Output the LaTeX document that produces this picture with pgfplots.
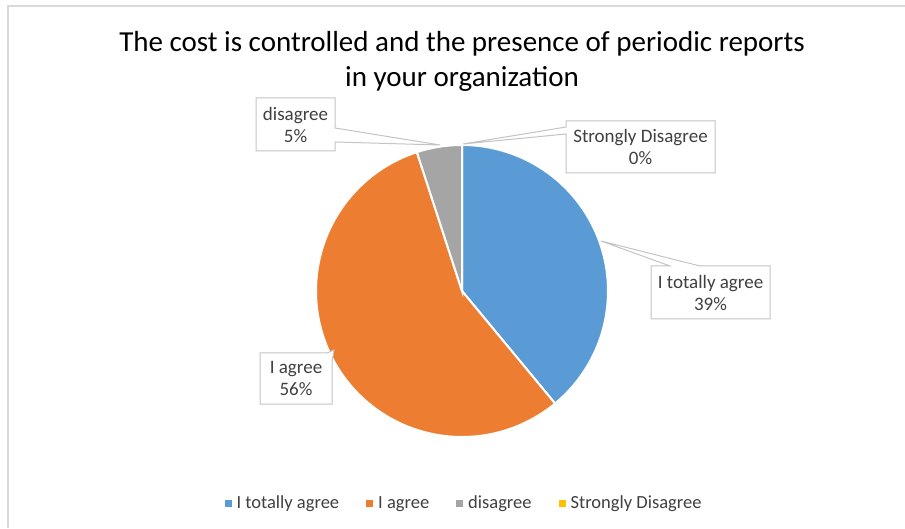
\documentclass[border=0pt]{standalone}
\usepackage{pgfplots}
\pgfplotsset{compat=1.18}
\usepackage{fontspec}
\setmainfont{Carlito}
\definecolor{pieblue}{HTML}{5B9BD5}
\definecolor{pieorange}{HTML}{ED7D31}
\definecolor{piegray}{HTML}{A5A5A5}
\definecolor{pieyellow}{HTML}{FFC000}
\definecolor{txtgray}{HTML}{404040}
\definecolor{boxgray}{HTML}{C4C4C4}
\definecolor{framegray}{HTML}{D9D9D9}
\begin{document}
\begin{tikzpicture}
\begin{axis}[
  scale only axis, width=905pt, height=528pt,
  xmin=0, xmax=905, ymin=0, ymax=528,
  hide axis, clip=false,
  legend columns=4,
  legend style={at={(axis cs:464,25)}, anchor=center, draw=none, fill=none,
    font=\fontsize{18.5}{20}\selectfont, text=txtgray,
    /tikz/every odd column/.append style={column sep=3pt},
    /tikz/every even column/.append style={column sep=25pt}},
  legend image code/.code={\fill[#1,draw=none] (0pt,-3.5pt) rectangle (7pt,3.5pt);},
]
% pie: centre (462,237), radius 146; values in percent, clockwise from 12 o'clock
\addplot[fill=pieblue, draw=white, line width=2pt, domain=0:39, samples=80, variable=\t]
  ({462+146*sin(3.6*\t)}, {237+146*cos(3.6*\t)}) -- (axis cs:462,237) -- cycle;
\addplot[fill=pieorange, draw=white, line width=2pt, domain=39:95, samples=100, variable=\t]
  ({462+146*sin(3.6*\t)}, {237+146*cos(3.6*\t)}) -- (axis cs:462,237) -- cycle;
\addplot[fill=piegray, draw=white, line width=2pt, domain=95:100, samples=20, variable=\t]
  ({462+146*sin(3.6*\t)}, {237+146*cos(3.6*\t)}) -- (axis cs:462,237) -- cycle;
\addlegendimage{fill=pieyellow}
\legend{I totally agree, I agree, disagree, Strongly Disagree}

% frame
\draw[framegray, line width=1.5pt] (axis cs:8,0) -- (axis cs:8,522) -- (axis cs:905,522);

% title
\node[align=center, font=\fontsize{29}{35}\selectfont, text=black] at (axis cs:462,467)
  {The cost is controlled and the presence of periodic reports\\in your organization};

% callouts
\draw[boxgray, fill=white, line width=1pt] (axis cs:256,377) -- (axis cs:256,430) -- (axis cs:335,430)
  -- (axis cs:335,400) -- (axis cs:440,383) -- (axis cs:335,386) -- (axis cs:335,377) -- cycle;
\node[align=center, font=\fontsize{19}{22}\selectfont, text=txtgray] at (axis cs:295.5,403.5) {disagree\\5\%};

\draw[boxgray, fill=white, line width=1pt] (axis cs:566,355) -- (axis cs:566,394) -- (axis cs:463,384)
  -- (axis cs:566,401) -- (axis cs:566,407) -- (axis cs:715,407) -- (axis cs:715,355) -- cycle;
\node[align=center, font=\fontsize{19}{22}\selectfont, text=txtgray] at (axis cs:640.5,381) {Strongly Disagree\\0\%};

\draw[boxgray, fill=white, line width=1pt] (axis cs:651,209) -- (axis cs:651,262) -- (axis cs:670,262)
  -- (axis cs:601,287) -- (axis cs:700,262) -- (axis cs:770,262) -- (axis cs:770,209) -- cycle;
\node[align=center, font=\fontsize{19}{22}\selectfont, text=txtgray] at (axis cs:710.5,235.5) {I totally agree\\39\%};

\draw[boxgray, fill=white, line width=1pt] (axis cs:260,124) -- (axis cs:260,175) -- (axis cs:327,175)
  -- (axis cs:334,178) -- (axis cs:332,166) -- (axis cs:332,124) -- cycle;
\node[align=center, font=\fontsize{19}{22}\selectfont, text=txtgray] at (axis cs:296,149.5) {I agree\\56\%};
\end{axis}
\pgfresetboundingbox
\path (0,0) rectangle (905pt,528pt);
\end{tikzpicture}
\end{document}
